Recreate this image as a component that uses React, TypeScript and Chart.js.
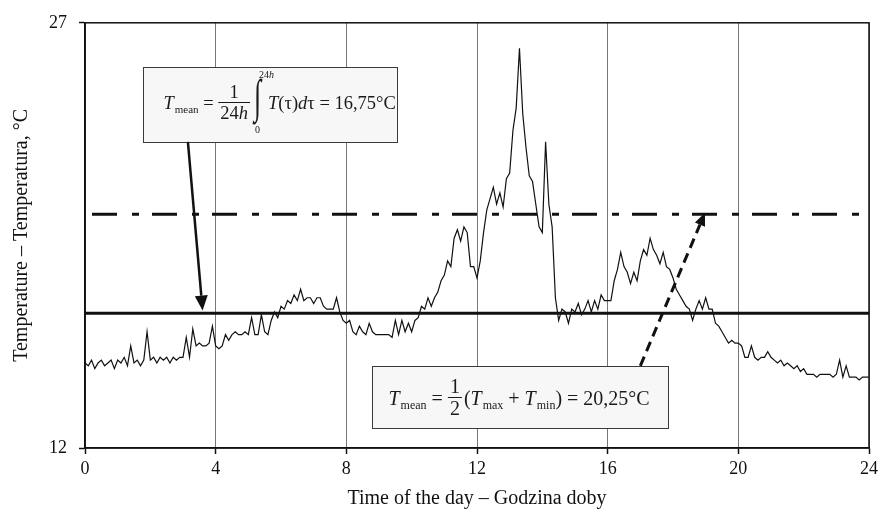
import { useEffect, useRef } from 'react';
import { Chart, registerables } from 'chart.js';

Chart.register(...registerables);

// Air temperature logged every 0.1 h over one day, split by part of the day.
const NIGHT_0_4 = [
  15.0, 14.9, 15.1, 14.8, 15.0, 15.1, 14.9, 15.0, 15.1, 14.8,
  15.1, 15.0, 15.2, 14.9, 15.6, 15.0, 15.1, 14.9, 15.1, 16.1,
  15.1, 15.2, 15.0, 15.2, 15.1, 15.2, 15.0, 15.2, 15.1, 15.2,
  15.2, 15.9, 15.2, 16.2, 15.6, 15.7, 15.6, 15.6, 15.7, 16.3,
];
const MORNING_4_8 = [
  15.6, 15.5, 15.6, 16.0, 15.8, 16.0, 16.1, 16.0, 16.0, 16.1,
  16.0, 16.6, 16.0, 16.0, 16.7, 16.1, 16.0, 16.5, 16.8, 16.6,
  17.0, 16.9, 17.2, 17.1, 17.4, 17.2, 17.6, 17.2, 17.3, 17.3,
  17.1, 17.3, 17.3, 17.0, 16.9, 16.9, 16.9, 17.3, 16.8, 16.5,
];
const MIDDAY_8_12 = [
  16.4, 16.5, 16.1, 16.0, 16.3, 16.1, 16.0, 16.4, 16.1, 16.0,
  16.0, 16.0, 16.0, 16.0, 15.9, 16.5, 16.0, 16.5, 16.1, 16.4,
  16.1, 16.5, 16.6, 17.0, 16.9, 17.3, 17.0, 17.3, 17.5, 17.9,
  18.1, 18.6, 18.4, 19.4, 19.7, 19.3, 19.8, 19.6, 18.4, 18.4,
];
const AFTERNOON_12_16 = [
  18.0, 18.6, 19.6, 20.4, 20.8, 21.2, 20.6, 21.0, 20.5, 21.5,
  21.7, 23.2, 24.0, 26.1, 23.8, 22.6, 21.6, 21.4, 20.6, 19.8,
  19.6, 22.8, 20.6, 19.8, 17.3, 16.5, 16.9, 16.8, 16.4, 16.9,
  16.8, 17.1, 16.7, 16.9, 17.2, 16.8, 17.2, 16.9, 17.4, 17.2,
];
const EVENING_16_20 = [
  17.2, 17.2, 17.9, 18.3, 18.9, 18.4, 18.2, 17.8, 18.2, 17.9,
  18.6, 19.0, 18.8, 19.4, 19.0, 18.8, 18.5, 18.9, 18.4, 18.3,
  18.0, 17.6, 17.4, 17.2, 17.0, 16.9, 16.5, 16.9, 17.2, 16.9,
  17.3, 16.9, 16.9, 16.4, 16.3, 16.1, 15.9, 15.7, 15.8, 15.7,
];
const LATE_20_24 = [
  15.7, 15.6, 15.2, 15.2, 15.6, 15.2, 15.1, 15.2, 15.2, 15.4,
  15.2, 15.1, 15.0, 15.1, 14.9, 15.0, 14.9, 14.8, 14.9, 14.7,
  14.8, 14.6, 14.6, 14.6, 14.5, 14.6, 14.6, 14.6, 14.6, 14.5,
  14.6, 15.1, 14.5, 14.9, 14.5, 14.5, 14.5, 14.4, 14.5, 14.5,
  14.5,
];
const SAMPLE_STEP_H = 0.1;

// Daily means: time integral and half of (max + min).
const MEAN_INTEGRAL = 16.75;
const MEAN_MINMAX = 20.25;

const X_MIN = 0;
const X_MAX = 24;
const X_STEP = 4;
const Y_MIN = 12;
const Y_MAX = 27;

const X_TITLE = 'Time of the day – Godzina doby';
const Y_TITLE = 'Temperature – Temperatura, °C';

const SERIF = '"Liberation Serif", "Times New Roman", Times, serif';
const fnt = (size: number, italic = false) => `${italic ? 'italic ' : ''}${size}px ${SERIF}`;

type Txt = { s: string; size?: number; it?: boolean; dy?: number; gap?: number };
type Frac = { num: Txt[]; den: Txt[] };
type Integral = { hi: Txt[]; lo: Txt[] };
type MathNode = Txt | Frac | Integral;

const FORMULA_INTEGRAL: MathNode[] = [
  { s: 'T', it: true },
  { s: 'mean', size: 11, dy: 4, gap: 1 },
  { s: ' = ' },
  { num: [{ s: '1' }], den: [{ s: '24' }, { s: 'h', it: true }] },
  { s: '', gap: 2 },
  { hi: [{ s: '24', size: 10 }, { s: 'h', size: 10, it: true }], lo: [{ s: '0', size: 10 }] },
  { s: 'T', it: true },
  { s: '(' },
  { s: 'τ' },
  { s: ')' },
  { s: 'd', it: true },
  { s: 'τ' },
  { s: ' = 16,75°C' },
];

const FORMULA_MINMAX: MathNode[] = [
  { s: 'T', it: true },
  { s: 'mean', size: 12, dy: 4, gap: 1 },
  { s: ' = ' },
  { num: [{ s: '1' }], den: [{ s: '2' }] },
  { s: '(' },
  { s: 'T', it: true },
  { s: 'max', size: 12, dy: 4, gap: 1 },
  { s: ' + ' },
  { s: 'T', it: true },
  { s: 'min', size: 12, dy: 4, gap: 1 },
  { s: ')' },
  { s: ' = 20,25°C' },
];

// Call-out boxes and arrows in data units (hours, °C).
const BOX_INTEGRAL = { x0: 1.78, x1: 9.55, y0: 25.45, y1: 22.8, padX: 20, base: 41, size: 18.5 };
const BOX_MINMAX = { x0: 8.78, x1: 17.85, y0: 14.9, y1: 12.7, padX: 16, base: 38, size: 20 };
const ARROW_INTEGRAL = { x0: 3.15, y0: 22.8, x1: 3.6, y1: 16.85 };
const ARROW_MINMAX = { x0: 17.0, y0: 14.9, x1: 18.98, y1: 20.3 };

function measureRun(ctx: CanvasRenderingContext2D, run: Txt[], size: number) {
  let w = 0;
  for (const t of run) {
    ctx.font = fnt(t.size ?? size, t.it);
    w += ctx.measureText(t.s).width + (t.gap ?? 0);
  }
  return w;
}

function drawRun(ctx: CanvasRenderingContext2D, run: Txt[], x: number, base: number, size: number) {
  for (const t of run) {
    ctx.font = fnt(t.size ?? size, t.it);
    x += t.gap ?? 0;
    ctx.fillText(t.s, x, base + (t.dy ?? 0));
    x += ctx.measureText(t.s).width;
  }
  return x;
}

function drawFormula(ctx: CanvasRenderingContext2D, nodes: MathNode[], x: number, base: number, size: number) {
  ctx.textBaseline = 'alphabetic';
  ctx.textAlign = 'left';
  for (const n of nodes) {
    if ('num' in n) {
      const wn = measureRun(ctx, n.num, size);
      const wd = measureRun(ctx, n.den, size);
      const w = Math.max(wn, wd) + 4;
      const bar = base - Math.round(size * 0.33);
      ctx.fillRect(x, bar - 0.5, w, 1);
      drawRun(ctx, n.num, x + (w - wn) / 2, bar - 5, size);
      drawRun(ctx, n.den, x + (w - wd) / 2, bar + Math.round(size * 0.85), size);
      x += w + 2;
    } else if ('hi' in n) {
      ctx.save();
      ctx.font = fnt(26);
      ctx.translate(x, base);
      ctx.scale(1, 1.8);
      ctx.fillText('∫', 0, 2);
      ctx.restore();
      drawRun(ctx, n.hi, x + 5, base - 31, size);
      drawRun(ctx, n.lo, x + 1, base + 24, size);
      x += 14;
    } else {
      x = drawRun(ctx, [n], x, base, size);
    }
  }
}

function drawArrow(
  ctx: CanvasRenderingContext2D,
  x0: number, y0: number, x1: number, y1: number,
  width: number, dash: number[], headLen: number, headW: number,
) {
  const ang = Math.atan2(y1 - y0, x1 - x0);
  const c = Math.cos(ang);
  const s = Math.sin(ang);
  const bx = x1 - headLen * c;
  const by = y1 - headLen * s;
  ctx.save();
  ctx.strokeStyle = '#111';
  ctx.fillStyle = '#111';
  ctx.lineWidth = width;
  ctx.setLineDash(dash);
  ctx.beginPath();
  ctx.moveTo(x0, y0);
  ctx.lineTo(bx, by);
  ctx.stroke();
  ctx.setLineDash([]);
  ctx.beginPath();
  ctx.moveTo(x1, y1);
  ctx.lineTo(bx - (headW / 2) * s, by + (headW / 2) * c);
  ctx.lineTo(bx + (headW / 2) * s, by - (headW / 2) * c);
  ctx.closePath();
  ctx.fill();
  ctx.restore();
}

const calloutPlugin = {
  id: 'callouts',
  afterDatasetsDraw(chart: any) {
    const { ctx, chartArea, scales } = chart;
    const xs = scales.x;
    const ys = scales.y;
    const px = (v: number) => xs.getPixelForValue(v);
    const py = (v: number) => ys.getPixelForValue(v);

    ctx.save();
    const boxes: [typeof BOX_INTEGRAL, MathNode[]][] = [
      [BOX_INTEGRAL, FORMULA_INTEGRAL],
      [BOX_MINMAX, FORMULA_MINMAX],
    ];
    for (const [b, f] of boxes) {
      const l = Math.round(px(b.x0)) + 0.5;
      const r = Math.round(px(b.x1)) + 0.5;
      const t = Math.round(py(b.y0)) + 0.5;
      const btm = Math.round(py(b.y1)) + 0.5;
      ctx.fillStyle = '#f7f7f7';
      ctx.fillRect(l, t, r - l, btm - t);
      ctx.strokeStyle = '#3a3a3a';
      ctx.lineWidth = 1;
      ctx.strokeRect(l, t, r - l, btm - t);
      ctx.fillStyle = '#1a1a1a';
      drawFormula(ctx, f, l + b.padX, t + b.base, b.size);
    }

    drawArrow(ctx, px(ARROW_INTEGRAL.x0), py(ARROW_INTEGRAL.y0), px(ARROW_INTEGRAL.x1), py(ARROW_INTEGRAL.y1), 2.5, [], 15, 13);
    drawArrow(ctx, px(ARROW_MINMAX.x0), py(ARROW_MINMAX.y0), px(ARROW_MINMAX.x1), py(ARROW_MINMAX.y1), 3, [10, 6], 13, 11);

    // frame around the plotting area
    ctx.strokeStyle = '#111';
    ctx.lineWidth = 1.5;
    ctx.strokeRect(chartArea.left, chartArea.top, chartArea.right - chartArea.left, chartArea.bottom - chartArea.top);
    ctx.restore();
  },
};

export default function App() {
  const canvasRef = useRef<HTMLCanvasElement | null>(null);

  useEffect(() => {
    const canvas = canvasRef.current;
    if (!canvas) return;

    const temps = [...NIGHT_0_4, ...MORNING_4_8, ...MIDDAY_8_12, ...AFTERNOON_12_16, ...EVENING_16_20, ...LATE_20_24];
    const trace = temps.map((v, i) => ({ x: +(i * SAMPLE_STEP_H).toFixed(2), y: v }));

    const chart = new Chart(canvas, {
      type: 'line',
      data: {
        datasets: [
          {
            label: 'T',
            data: trace,
            borderColor: '#111',
            borderWidth: 1.2,
            pointRadius: 0,
            tension: 0,
            order: 2,
          },
          {
            label: 'T mean (integral)',
            data: [{ x: X_MIN, y: MEAN_INTEGRAL }, { x: X_MAX, y: MEAN_INTEGRAL }],
            borderColor: '#111',
            borderWidth: 3,
            pointRadius: 0,
            order: 1,
          },
          {
            label: 'T mean (max+min)/2',
            data: [{ x: X_MIN, y: MEAN_MINMAX }, { x: X_MAX, y: MEAN_MINMAX }],
            borderColor: '#111',
            borderWidth: 3,
            borderDash: [25, 15, 7, 13],
            borderDashOffset: 53,
            pointRadius: 0,
            order: 1,
          },
        ],
      },
      options: {
        responsive: false,
        animation: false,
        devicePixelRatio: 1,
        layout: { padding: { top: 18, right: 13, left: 0, bottom: 0 } },
        plugins: {
          legend: { display: false },
          tooltip: { enabled: false },
        },
        scales: {
          x: {
            type: 'linear',
            min: X_MIN,
            max: X_MAX,
            ticks: {
              stepSize: X_STEP,
              color: '#111',
              font: { family: SERIF, size: 18 },
              padding: 4,
              maxRotation: 0,
            },
            grid: {
              color: '#777',
              lineWidth: 1,
              drawTicks: true,
              tickLength: 6,
              tickColor: '#111',
              tickWidth: 1.5,
            },
            border: { color: '#111', width: 1.5 },
            title: {
              display: true,
              text: X_TITLE,
              color: '#111',
              font: { family: SERIF, size: 20 },
              padding: { top: 0, bottom: 5 },
            },
            afterFit: (s: any) => { s.height = 68; },
          },
          y: {
            type: 'linear',
            min: Y_MIN,
            max: Y_MAX,
            ticks: {
              stepSize: Y_MAX - Y_MIN,
              color: '#111',
              font: { family: SERIF, size: 18 },
              padding: 12,
            },
            grid: {
              drawOnChartArea: false,
              drawTicks: true,
              tickLength: 6,
              tickColor: '#111',
              tickWidth: 1.5,
            },
            border: { color: '#111', width: 1.5 },
            title: {
              display: true,
              text: Y_TITLE,
              color: '#111',
              font: { family: SERIF, size: 20 },
              padding: { top: 10, bottom: 0 },
            },
            afterFit: (s: any) => { s.width = 85; },
          },
        },
      },
      plugins: [calloutPlugin],
    });

    return () => chart.destroy();
  }, []);

  return (
    <div style={{ position: 'fixed', left: 0, top: 0, width: 882, height: 516, background: '#fff' }}>
      <canvas ref={canvasRef} width={882} height={516} />
    </div>
  );
}
